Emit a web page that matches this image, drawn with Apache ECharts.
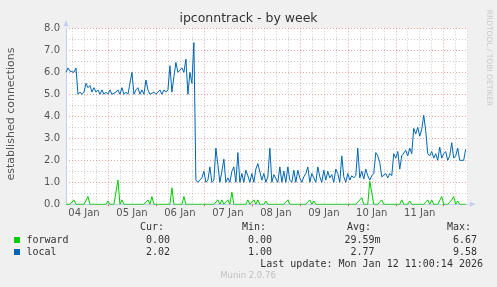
<!DOCTYPE html>
<html><head><meta charset="utf-8">
<script src="https://cdn.jsdelivr.net/npm/echarts@6/dist/echarts.min.js"></script>
<style>html,body{margin:0;padding:0;background:#f0f0f0;}#c{width:497px;height:287px;}</style>
</head><body><div id="c"></div>
<script>
// hours since 04 Jan 00:00, one sample per hour, first sample at hour 3
const startHour = 3;
const localValues = [
 6.0,6.2,6.05,6.0,6.0,6.2,5.0,
 5.1,5.0,5.1,5.5,5.3,5.4,5.1,5.3,5.1,5.2,
 5.0,5.2,5.0,5.1,5.0,5.2,5.0,5.0,5.1,5.2,
 5.0,5.3,5.0,5.1,5.0,5.0,6.0,5.0,5.2,5.3,
 5.0,5.2,5.0,5.65,5.2,5.0,5.0,5.1,5.0,5.0,
 5.2,5.0,5.2,5.1,5.2,6.3,5.1,5.8,6.45,6.0,
 6.0,6.2,6.0,6.6,5.0,6.0,5.5,7.35,1.1,1.0,
 1.0,1.2,1.5,1.0,1.1,1.7,1.0,1.1,2.55,1.8,
 1.0,1.5,2.05,1.0,1.2,1.0,1.5,1.7,1.0,2.35,
 1.0,1.4,1.0,1.55,1.3,1.0,1.4,1.0,1.6,1.85,
 1.85,1.1,1.4,1.0,1.25,2.55,1.0,1.35,1.4,1.0,
 1.7,1.0,1.5,1.0,1.7,1.1,1.0,1.55,1.0,1.55,
 1.2,1.0,1.25,1.4,1.7,1.0,1.4,1.4,1.0,1.7,
 1.25,1.0,1.55,1.1,1.5,1.2,1.35,1.0,1.6,1.4,
 1.0,2.2,1.25,1.0,1.4,1.1,1.3,1.2,1.3,2.55,
 1.2,1.5,1.15,1.6,1.3,1.1,1.3,1.4,2.35,2.2,
 1.9,1.25,1.2,1.4,1.2,1.4,1.3,2.3,2.1,2.4,
 1.6,2.2,2.25,2.45,2.2,2.55,2.3,3.45,3.2,3.5,
 3.1,3.4,4.05,3.35,2.3,2.2,2.4,2.1,2.3,2.0,
 2.6,2.1,2.3,2.4,2.0,2.2,2.8,2.1,2.2,2.55,
 2.0,2.0,2.0,2.5
];
const forwardValues = [
 0,0,0,0,0.2,0,0,
 0,0,0,0,0.35,0,0,0,0,0,
 0,0,0,0,0.15,0,0,0,0,1.1,
 0,0.2,0,0,0,0,0,0,0,0,
 0,0,0,0,0.2,0,0.35,0,0,0,
 0,0,0,0,0,0,0.75,0,0,0,
 0,0,0.35,0,0,0,0,0,0,0,
 0,0,0,0,0,0,0,0,0,0.2,
 0,0.2,0,0,0.2,0,0.55,0,0,0,
 0,0,0,0,0.2,0,0,0.2,0,0.2,
 0,0,0,0.15,0,0,0,0,0,0,
 0,0,0,0,0.2,0,0,0,0,0,
 0,0,0,0,0,0.2,0,0.15,0,0,
 0,0,0,0,0,0,0,0,0,0,
 0,0,0,0,0,0,0,0,0,0,
 0.2,0.3,0,0,0,1.05,1.05,0,0,0,
 0,0.2,0,0,0,0,0,0,0,0,
 0,0.2,0,0,0,0.15,0,0,0,0,
 0,0,0,0,0.2,0,0.2,0,0,0,
 0,0.35,0,0,0,0,0.2,0.35,0,0.15,
 0,0,0,0
];
const xTickHours = [12,36,60,84,108,132,156,180];
const xTickLabels = ['04 Jan','05 Jan','06 Jan','07 Jan','08 Jan','09 Jan','10 Jan','11 Jan'];
const midnightHours = [24,48,72,96,120,144,168,192];
const seriesNames = ['forward','local'];
const seriesColors = ['#00cc00','#0066b3'];
const statHeaders = ['Cur:','Min:','Avg:','Max:'];
const forwardStats = ['0.00','0.00','29.59m','6.67'];
const localStats = ['2.02','1.00','2.77','9.58'];

const toPairs = arr => arr.map((v,i)=>[startHour+i, v]);
const GRIDC = 'rgba(140,140,140,0.45)';
const MGRIDC = 'rgba(225,90,90,0.55)';
const AXISC = '#c6cdf4';
const mono = 'DejaVu Sans Mono';
const T = (x,y,text,opt) => Object.assign({type:'text', x, y, style:Object.assign({text, font:'10px "'+mono+'"', fill:'#333', textVerticalAlign:'middle'}, opt||{})});

const chart = echarts.init(document.getElementById('c'), null, {renderer:'canvas'});
const graphics = [
  {type:'text', x:248.5, y:19, style:{text:'ipconntrack - by week', font:'12.5px "DejaVu Sans"', fill:'#333', textAlign:'center', textVerticalAlign:'middle'}},
  {type:'text', x:11, y:114, rotation:Math.PI/2, style:{text:'established connections', font:'11px "DejaVu Sans"', fill:'#555', textAlign:'center', textVerticalAlign:'middle'}},
  {type:'text', x:488.5, y:58, rotation:-Math.PI/2, style:{text:'RRDTOOL / TOBI OETIKER', font:'7.5px "DejaVu Sans"', fill:'#c8c8c8', textAlign:'center', textVerticalAlign:'middle'}},
  T(140,227,statHeaders[0]), T(242,227,statHeaders[1]), T(347,227,statHeaders[2]), T(447,227,statHeaders[3]),
  {type:'rect', shape:{x:14,y:237,width:6,height:6}, style:{fill:seriesColors[0]}},
  {type:'rect', shape:{x:14,y:249,width:6,height:6}, style:{fill:seriesColors[1]}},
  T(26.5,240,seriesNames[0]), T(26.5,252,seriesNames[1]),
  T(170,240,forwardStats[0],{textAlign:'right'}), T(272,240,forwardStats[1],{textAlign:'right'}), T(380.5,240,forwardStats[2],{textAlign:'right'}), T(477,240,forwardStats[3],{textAlign:'right'}),
  T(170,252,localStats[0],{textAlign:'right'}), T(272,252,localStats[1],{textAlign:'right'}), T(374.5,252,localStats[2],{textAlign:'right'}), T(477,252,localStats[3],{textAlign:'right'}),
  T(483,264,'Last update: Mon Jan 12 11:00:14 2026',{textAlign:'right'}),
  {type:'text', x:248, y:276, style:{text:'Munin 2.0.76', font:'8.5px "DejaVu Sans"', fill:'#c0c0c0', textAlign:'center', textVerticalAlign:'middle'}}
];

chart.setOption({
  animation:false,
  backgroundColor:'#f0f0f0',
  grid:{left:66, right:29.3, top:28.3, bottom:82.7, show:true, backgroundColor:'#ffffff', borderWidth:0},
  xAxis:[{
    type:'value', min:3, max:204, interval:3,
    axisLine:{show:true, lineStyle:{color:AXISC, width:1}, symbol:['none','triangle'], symbolSize:[5,6], symbolOffset:[0,5]},
    axisTick:{show:false},
    axisLabel:{margin:4, color:'#555', fontFamily:'DejaVu Sans', fontSize:10,
      formatter:v=>{const i = xTickHours.indexOf(v); return i>=0 ? xTickLabels[i] : '';}},
    splitLine:{show:true, lineStyle:{width:1, type:[1,2], color:['transparent',GRIDC,'transparent',GRIDC,'transparent',GRIDC,'transparent',MGRIDC]}}
  },{
    type:'value', min:3, max:204, position:'bottom',
    axisLine:{show:false}, axisLabel:{show:false}, splitLine:{show:false},
    axisTick:{show:true, inside:false, length:2, customValues:midnightHours, lineStyle:{color:'#e06060'}}
  }],
  yAxis:{
    type:'value', min:0, max:8, interval:0.5,
    axisLine:{show:true, lineStyle:{color:AXISC, width:1}, symbol:['none','triangle'], symbolSize:[5,6], symbolOffset:[0,5]},
    axisTick:{show:false},
    axisLabel:{margin:6, color:'#555', fontFamily:'DejaVu Sans', fontSize:10,
      formatter:v=> (Math.abs(v-Math.round(v))<1e-9) ? v.toFixed(1) : ''},
    splitLine:{show:true, lineStyle:{width:1, type:[1,2], color:[MGRIDC,GRIDC]}}
  },
  series:[
    {name:seriesNames[0], type:'line', data:toPairs(forwardValues), showSymbol:false, lineStyle:{color:seriesColors[0], width:1}, itemStyle:{color:seriesColors[0]}, z:3},
    {name:seriesNames[1], type:'line', data:toPairs(localValues), showSymbol:false, lineStyle:{color:seriesColors[1], width:1}, itemStyle:{color:seriesColors[1]}, z:4}
  ],
  graphic:graphics
});
</script></body></html>
